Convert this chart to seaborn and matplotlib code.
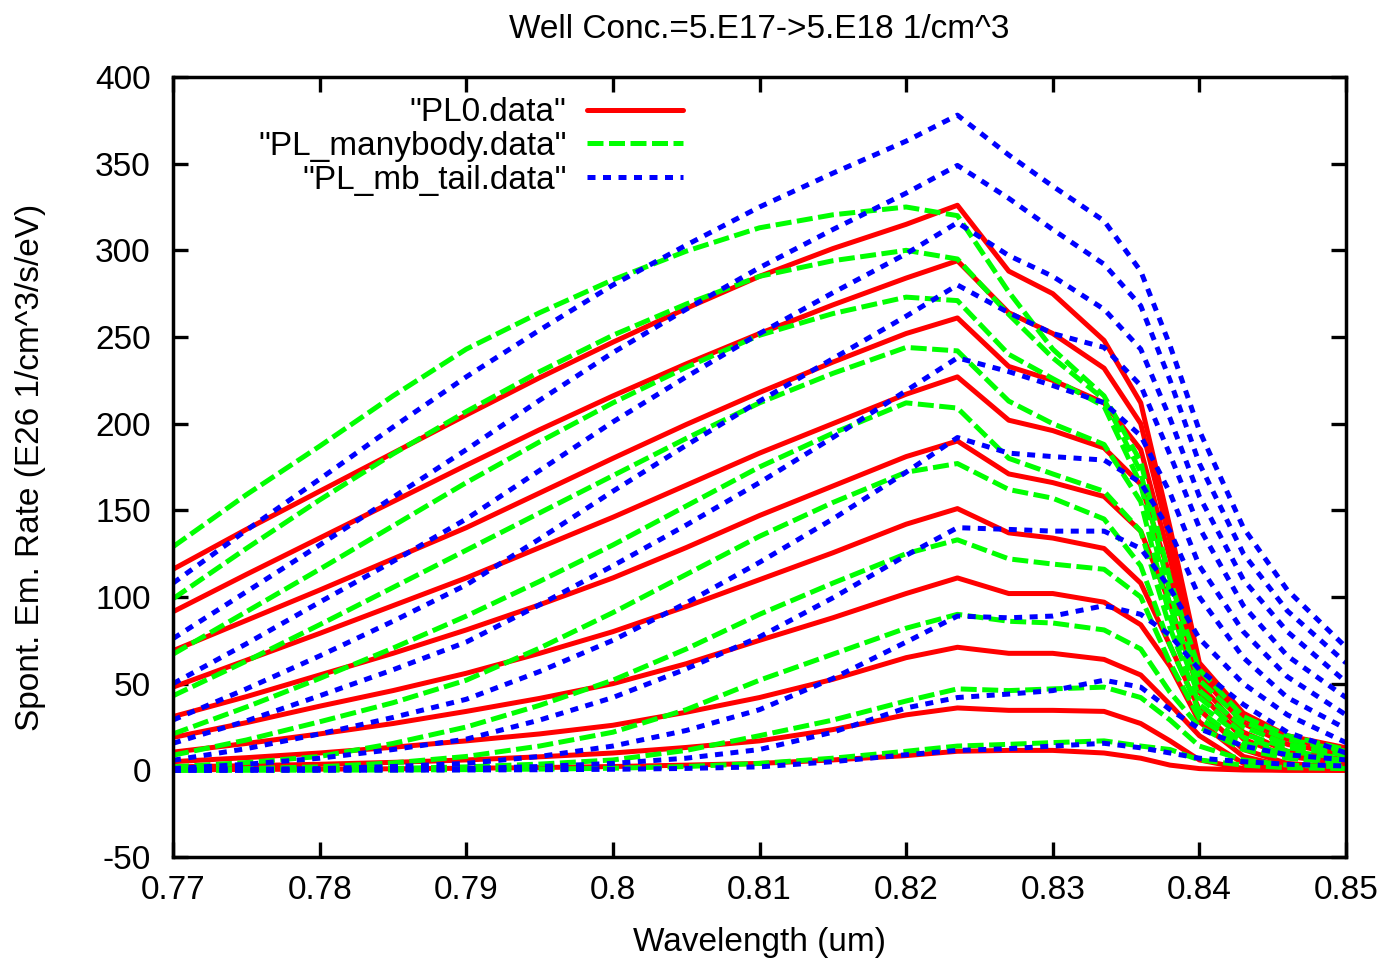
import matplotlib
matplotlib.use("Agg")
import matplotlib.pyplot as plt
from matplotlib.lines import Line2D
import numpy as np
import pandas as pd
import seaborn as sns

# ---------------- data ----------------
wavelength = [0.770, 0.775, 0.780, 0.785, 0.790, 0.795, 0.800, 0.805, 0.810, 0.815,
              0.820, 0.8235, 0.827, 0.830, 0.8335, 0.836, 0.838, 0.840, 0.843,
              0.846, 0.850]

pl0_rates = [
    [116, 139, 161, 183, 205, 226.5, 247, 266.5, 285, 301, 315, 326, 288, 275, 248, 212, 140, 62, 33, 20, 13],
    [91.5, 113, 134, 155, 176, 196.5, 216, 234.5, 252, 268.5, 284, 294, 264, 252, 232, 200, 132, 59, 30, 18, 11],
    [69, 86.5, 104, 122, 140, 160, 180, 199.5, 218, 235.5, 252, 261, 233, 225, 212, 185, 122, 55, 27, 15, 9],
    [48, 63.5, 79, 95, 111, 128.5, 146, 164.5, 183, 200, 217, 227, 202, 196, 186, 165, 112, 50, 22, 11, 6],
    [31, 42.5, 55, 67.5, 81, 95.5, 111, 128.5, 147, 164, 181, 190, 171, 166, 158, 138, 96, 45, 18, 8, 4],
    [19, 27.5, 37, 46, 56, 67.5, 80, 94.5, 110, 125.5, 142, 151, 137, 134, 128, 108, 72, 35, 12, 4, 1.5],
    [10.5, 15.5, 21, 27, 34, 41.5, 50, 61.5, 75, 88, 102, 111, 102, 102, 97, 84, 60, 28, 8, 2, 0.5],
    [5, 7.3, 10, 13.3, 17, 21, 26, 33.5, 42, 52.5, 65, 71, 67.5, 67.5, 64, 55, 38, 20, 4, 1, 0.3],
    [2, 2.7, 3.5, 4.6, 6, 7.8, 10, 13.2, 17, 23.5, 32, 36, 34.6, 34.6, 34, 27, 17, 6, 1, 0.2, 0],
    [0.3, 0.5, 0.7, 0.9, 1.2, 1.6, 2.2, 3, 4, 6, 8.5, 11, 11.5, 11.5, 10, 7, 3, 1, 0.2, 0, 0],
]

manybody_rates = [
    [129, 159, 187, 216, 243, 264, 283, 299.5, 313, 320.5, 325, 320, 276, 243, 216, 178, 110, 58, 31, 20, 12],
    [99, 128, 156, 182.5, 207, 230, 251, 269, 285, 294, 300, 295, 263, 238, 214, 172, 102, 52, 28, 18, 11],
    [67, 91.5, 116, 141, 166, 189.5, 212, 232.5, 251, 263.5, 273, 271, 240, 226, 210, 165, 95, 46, 25, 15, 10],
    [43, 63, 84, 105.5, 127, 148.5, 170, 191.5, 212, 229, 244, 242, 213, 200, 188, 155, 88, 42, 21, 13, 9],
    [21, 36.5, 53, 70.5, 89, 109, 130, 152.5, 175, 194.5, 212, 209, 180, 171, 161, 138, 82, 38, 19, 11, 7],
    [8.7, 17.5, 28, 39, 52, 70.5, 91, 113, 135, 154.5, 172, 177, 162, 157, 145, 118, 72, 34, 16, 9, 6],
    [2, 4.5, 8, 15.5, 25, 37.5, 52, 70, 90, 108, 125, 133, 122, 119, 116, 100, 62, 30, 14, 8, 5],
    [0.5, 1, 2, 4.3, 8, 14, 22, 35, 52, 67, 82, 90, 86, 85, 81, 70, 45, 25, 12, 7, 4],
    [0.2, 0.4, 0.6, 1.1, 2, 3.6, 6, 11.5, 20, 29, 40, 47, 46, 47, 48, 42, 29, 14, 6, 3, 2],
    [0, 0.05, 0.1, 0.2, 0.4, 0.7, 1.2, 2.2, 4, 7, 11, 14, 15, 16, 17, 14, 12, 6, 3, 1.5, 1],
]

mb_tail_rates = [
    [108, 138.5, 168, 198, 227, 254, 280, 303, 325, 344.5, 363, 378, 355, 337, 317, 288, 245, 196, 140, 104, 71],
    [76, 103, 130, 157.5, 185, 213.5, 241, 266, 290, 312, 333, 349, 330, 312, 292, 268, 225, 177, 125, 92, 62],
    [50, 73, 97, 120.5, 145, 173, 201, 227, 252, 275.5, 298, 316, 297, 285, 266, 243, 203, 158, 110, 80, 51],
    [29, 47, 66, 86, 107, 133.5, 161, 187.5, 213, 237.5, 262, 280, 264, 252, 244, 222, 182, 140, 95, 66, 42],
    [15.6, 28.5, 43, 58, 74, 95.5, 118, 141.5, 166, 192, 219, 238, 230, 222, 212, 193, 160, 118, 80, 54, 32],
    [5.8, 12.5, 21, 30.5, 41, 57, 75, 96.5, 120, 145, 172, 192, 183, 181, 179, 166, 138, 100, 65, 42, 24],
    [1, 3.5, 7, 12, 18, 29, 42, 58.5, 77, 99.5, 124, 140, 139, 138, 138, 128, 105, 76, 50, 32, 16],
    [0.3, 0.6, 1, 2.2, 4, 8, 14, 23, 35, 53, 74, 89, 88, 89, 95, 90, 78, 58, 38, 22, 10],
    [0.1, 0.2, 0.3, 0.6, 1, 2.2, 4, 7, 12, 22, 36, 42, 44, 46, 52, 48, 35, 24, 14, 9, 6],
    [0, 0.02, 0.05, 0.1, 0.2, 0.35, 0.6, 1.1, 2, 5, 9, 11.5, 12.5, 14, 15.6, 13, 10, 7, 5, 3.5, 2.5],
]

series_labels = ['"PL0.data"', '"PL_manybody.data"', '"PL_mb_tail.data"']
xticks = [0.77, 0.78, 0.79, 0.80, 0.81, 0.82, 0.83, 0.84, 0.85]
xtick_labels = ["0.77", "0.78", "0.79", "0.8", "0.81", "0.82", "0.83", "0.84", "0.85"]
yticks = [-50, 0, 50, 100, 150, 200, 250, 300, 350, 400]

title = "Well Conc.=5.E17->5.E18 1/cm^3"
xlabel = "Wavelength (um)"
ylabel = "Spont. Em. Rate (E26 1/cm^3/s/eV)"

# ---------------- build table ----------------
rows = []
for label, curves in zip(series_labels, [pl0_rates, manybody_rates, mb_tail_rates]):
    for i, vals in enumerate(curves):
        assert len(vals) == len(wavelength), (label, i, len(vals))
        for w, v in zip(wavelength, vals):
            rows.append({"file": label, "curve": f"{label}-{i}", "wavelength": w, "rate": v})
df = pd.DataFrame(rows)

# ---------------- style ----------------
sns.set_theme(style="ticks")
plt.rcParams["font.family"] = ["Liberation Sans", "DejaVu Sans"]
plt.rcParams["text.color"] = "black"
plt.rcParams["axes.labelcolor"] = "black"
plt.rcParams["axes.unicode_minus"] = False

colors = {series_labels[0]: "#ff0000", series_labels[1]: "#00ff00", series_labels[2]: "#0000ff"}
LW = 3.6
dash_map = {series_labels[0]: "", series_labels[1]: (3.2, 1.1), series_labels[2]: (1.6, 1.5)}

fig = plt.figure(figsize=(13.9, 9.6), dpi=100)
ax = fig.add_axes([173 / 1390, 1 - 857 / 960, (1346 - 173) / 1390, (857 - 77) / 960])

sns.lineplot(data=df, x="wavelength", y="rate", hue="file", style="file",
             units="curve", estimator=None, hue_order=series_labels,
             style_order=series_labels, palette=colors, dashes=dash_map,
             linewidth=LW, legend=False, sort=False, ax=ax)

ax.set_xlim(0.77, 0.85)
ax.set_ylim(-50, 400)
ax.set_xticks(xticks)
ax.set_xticklabels(xtick_labels)
ax.set_yticks(yticks)
ax.tick_params(axis="both", direction="in", length=11, width=2.4,
               top=True, right=True, labelsize=24, colors="black")
ax.tick_params(axis="x", pad=13)
ax.tick_params(axis="y", pad=16)
for sp in ax.spines.values():
    sp.set_linewidth(2.5)
    sp.set_color("black")

ax.set_xlabel(xlabel, fontsize=24)
ax.set_ylabel(ylabel, fontsize=24)
ax.xaxis.set_label_coords(0.5, -0.09)
ax.yaxis.set_label_coords(-0.108, 0.5)
ax.set_title(title, fontsize=24, pad=28)

handles = [
    Line2D([], [], color=colors[series_labels[0]], lw=LW),
    Line2D([], [], color=colors[series_labels[1]], lw=LW, dashes=dash_map[series_labels[1]]),
    Line2D([], [], color=colors[series_labels[2]], lw=LW, dashes=dash_map[series_labels[2]]),
]
ax.legend(handles, series_labels, loc="upper right", bbox_to_anchor=(0.435, 0.974),
          markerfirst=False, frameon=False, fontsize=24, handlelength=2.9,
          handletextpad=0.6, labelspacing=0.08, borderaxespad=0, borderpad=0)

fig.savefig("out.png", dpi=100)
